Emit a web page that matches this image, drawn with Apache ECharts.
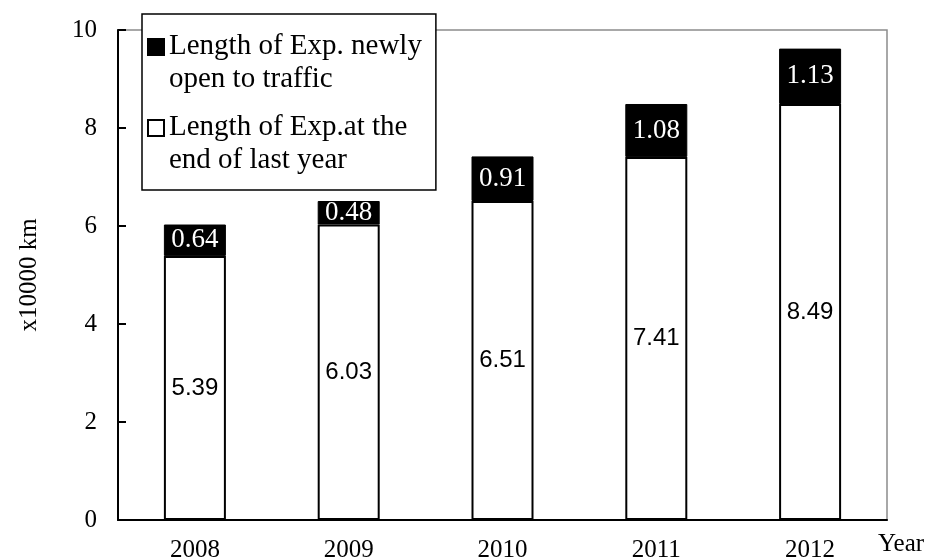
<!DOCTYPE html>
<html>
<head>
<meta charset="utf-8">
<title>expressway_length</title>
<script src="https://cdn.jsdelivr.net/npm/echarts@6/dist/echarts.min.js"></script>
<style>
    body { margin: 0; background: #fff; }
    #main { width: 930px; height: 560px; }
</style>
</head>
<body>
<div id="main"></div>
<script>
var years = ['2008', '2009', '2010', '2011', '2012'];
var last_year_end = [5.39, 6.03, 6.51, 7.41, 8.49];
var newly_open = [0.64, 0.48, 0.91, 1.08, 1.13];
var y_min = 0, y_max = 10, y_step = 2;

var name_new = 'Length of Exp. newly open to traffic';
var name_old = 'Length of Exp.at the end of last year';
var serif = 'Liberation Serif';

var myChart = echarts.init(document.getElementById('main'));
var option = {
    backgroundColor: '#fff',
    animation: false,
    grid: {
        left: 118, right: 43, top: 30, bottom: 40,
        outerBoundsMode: 'none',
        show: true, borderColor: '#8c8c8c', borderWidth: 1.5
    },
    legend: {
        orient: 'vertical',
        left: 142, top: 14,
        data: [name_new, name_old],
        // square sits at the top third of the icon box so it lines up with the first text line
        icon: 'path://M0,0H10V10H0Z M0,30',
        symbolKeepAspect: false,
        itemWidth: 16, itemHeight: 48,
        itemGap: 15,
        padding: [16, 14, 13, 5],
        backgroundColor: '#fff',
        borderColor: '#000', borderWidth: 1.5,
        textStyle: { fontFamily: serif, fontSize: 29, lineHeight: 33, color: '#000' },
        formatter: function (name) {
            return name == name_new ? 'Length of Exp. newly\nopen to traffic' : 'Length of Exp.at the\nend of last year';
        }
    },
    xAxis: {
        type: 'category',
        data: years,
        axisLine: { lineStyle: { color: '#000', width: 2 } },
        axisTick: { inside: true, length: 10, lineStyle: { color: '#000', width: 2 } },
        axisLabel: { fontFamily: serif, fontSize: 25, color: '#000', margin: 18 },
        name: 'Year',
        nameLocation: 'end',
        nameGap: -9,
        nameTextStyle: { fontFamily: serif, fontSize: 25, color: '#000', align: 'left', verticalAlign: 'top', padding: [12, 0, 0, 0] }
    },
    yAxis: {
        type: 'value',
        min: y_min, max: y_max, interval: y_step,
        axisLine: { show: true, lineStyle: { color: '#000', width: 2 } },
        axisTick: { show: true, inside: true, length: 8, lineStyle: { color: '#000', width: 2 } },
        splitLine: { show: false },
        axisLabel: { fontFamily: serif, fontSize: 25, color: '#000', margin: 21 },
        name: 'x10000 km',
        nameLocation: 'middle',
        nameRotate: 90,
        nameGap: 76,
        nameTextStyle: { fontFamily: serif, fontSize: 25, color: '#000' }
    },
    series: [
        {
            name: name_old,
            type: 'bar',
            stack: 'total',
            barWidth: 62,
            itemStyle: { color: '#fff', borderColor: '#000', borderWidth: 2 },
            label: { show: true, position: 'inside', color: '#000', fontFamily: 'Liberation Sans', fontSize: 24 },
            data: last_year_end
        },
        {
            name: name_new,
            type: 'bar',
            stack: 'total',
            barWidth: 62,
            itemStyle: { color: '#000', borderColor: '#000', borderWidth: 1 },
            label: { show: true, position: 'inside', color: '#fff', fontFamily: serif, fontSize: 27 },
            data: newly_open
        }
    ]
};
myChart.setOption(option);
</script>
</body>
</html>
